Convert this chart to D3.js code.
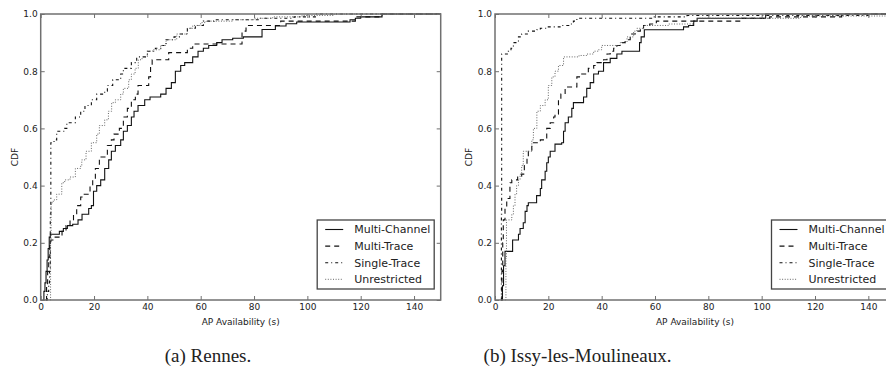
<!DOCTYPE html>
<html>
<head>
<meta charset="utf-8">
<script src="https://cdn.jsdelivr.net/npm/d3@7"></script>
<style>
  html, body { margin: 0; padding: 0; background: #fff; }
  svg { display: block; }
  .tick text { font-family: "DejaVu Sans", sans-serif; font-size: 9px; fill: #222; }
</style>
</head>
<body>
<svg id="fig" width="886" height="376"></svg>
<script>
// ---- data -------------------------------------------------------------
const xTicks = [0, 20, 40, 60, 80, 100, 120, 140];
const yTicks = [0, 0.2, 0.4, 0.6, 0.8, 1.0];
const seriesNames = ["Multi-Channel", "Multi-Trace", "Single-Trace", "Unrestricted"];
const captions = ["(a) Rennes.", "(b) Issy-les-Moulineaux."];
const xLabel = "AP Availability (s)";
const yLabel = "CDF";

// Rennes: [seconds, cumulative fraction] step points
const rennesMultiChannel = [
  [0.8,0],[1.2,0.03],[1.6,0.06],[2,0.1],[2.4,0.14],[2.8,0.18],[3.2,0.22],[3.6,0.23],
  [7,0.24],[8.5,0.25],[10,0.26],[12,0.265],[14,0.28],[15.5,0.30],[18,0.32],[19,0.33],
  [19.8,0.38],[21,0.40],[22.5,0.42],[24,0.46],[25.5,0.49],[26.5,0.52],[28,0.54],[30,0.56],
  [31,0.59],[32.5,0.61],[34,0.64],[35,0.66],[36.5,0.68],[39,0.70],[41,0.71],[45,0.72],
  [47,0.74],[49,0.76],[50.5,0.80],[52.5,0.82],[54,0.83],[57,0.85],[59,0.87],[61,0.88],
  [63,0.89],[66,0.90],[68,0.91],[72,0.915],[76,0.92],[83,0.946],[88,0.958],[92,0.966],
  [96,0.972],[116,0.98],[118,0.985],[120,0.99],[128,1.0]
];
const rennesMultiTrace = [
  [1.8,0],[2.2,0.05],[2.6,0.1],[3,0.15],[3.4,0.19],[3.8,0.21],[5,0.22],[8,0.24],
  [9.5,0.26],[11,0.28],[12.3,0.30],[13.5,0.33],[15,0.36],[15.5,0.37],[18.5,0.40],
  [19.5,0.42],[20.5,0.46],[22,0.50],[25,0.54],[26.5,0.56],[27.5,0.58],[29.5,0.60],
  [31,0.64],[32.5,0.67],[34,0.70],[35.5,0.72],[36.5,0.75],[40.5,0.78],[41.2,0.82],
  [41.8,0.84],[48,0.865],[55,0.88],[57,0.895],[75.5,0.94],[77,0.96],[90,0.975],
  [118,0.99],[128,1.0]
];
const rennesSingleTrace = [
  [2,0],[2.5,0.03],[3,0.06],[3.3,0.1],[3.6,0.3],[3.8,0.55],[5,0.56],[6,0.59],[9,0.60],
  [9.8,0.62],[13,0.64],[15,0.66],[16.6,0.68],[19,0.70],[21,0.72],[24,0.73],[25,0.75],
  [27,0.77],[30,0.79],[31,0.81],[34,0.83],[36,0.85],[40,0.87],[43,0.88],[45,0.89],
  [47,0.91],[50,0.92],[52,0.93],[55,0.95],[58,0.96],[61,0.975],[65,0.98],[82,0.985],
  [95,0.99],[103,1.0]
];
const rennesUnrestricted = [
  [3.5,0],[3.7,0.2],[3.9,0.34],[4.7,0.35],[6,0.37],[7.9,0.41],[9,0.42],[11,0.43],
  [13,0.46],[15,0.47],[15.4,0.49],[17,0.52],[19,0.55],[21,0.58],[22,0.61],[24,0.63],
  [25.4,0.66],[26.6,0.69],[28,0.70],[30,0.72],[31,0.74],[33,0.77],[34,0.79],[35.4,0.81],
  [36.6,0.84],[38,0.85],[40,0.87],[42,0.875],[45,0.89],[47,0.91],[51,0.93],[55,0.95],
  [57,0.96],[60,0.97],[62,0.975],[72,0.98],[80,0.985],[87,0.99],[98,0.995],[110,1.0]
];

// Issy-les-Moulineaux
const issyMultiChannel = [
  [2.5,0],[2.8,0.05],[3.2,0.12],[3.75,0.17],[6.6,0.21],[8.8,0.23],[9.4,0.25],[10.6,0.27],
  [11.3,0.31],[12,0.33],[12.5,0.34],[15.6,0.365],[17,0.39],[17.5,0.42],[18.8,0.45],
  [19.4,0.48],[20,0.50],[20.7,0.52],[22.5,0.545],[25,0.55],[25.7,0.59],[26.3,0.62],
  [27.5,0.64],[28.8,0.67],[29.4,0.69],[33.2,0.71],[34.4,0.74],[35.7,0.76],[37,0.79],
  [38.8,0.80],[40.7,0.83],[43.2,0.845],[45.7,0.86],[47.6,0.87],[54.2,0.90],[54.8,0.92],
  [56,0.945],[70.7,0.955],[72.6,0.96],[74.5,0.975],[75.8,0.985],[101.5,1.0]
];
const issyMultiTrace = [
  [2.3,0],[2.6,0.1],[2.9,0.2],[3.1,0.28],[3.75,0.32],[4.4,0.355],[5.6,0.41],[6.3,0.42],
  [8.5,0.433],[10,0.44],[11,0.47],[12,0.50],[12.5,0.52],[13.8,0.54],[14.4,0.55],
  [17,0.56],[19.4,0.60],[20.7,0.62],[22,0.64],[22.5,0.65],[23.8,0.70],[24.7,0.72],
  [26.3,0.745],[30.7,0.78],[32,0.79],[35,0.81],[37,0.82],[38.2,0.83],[40.7,0.84],
  [42,0.86],[43.2,0.87],[44.5,0.88],[45.7,0.89],[47.6,0.90],[48.8,0.91],[50.7,0.93],
  [52.6,0.94],[54.5,0.95],[55.7,0.96],[58,0.965],[60.5,0.975],[92,0.985],[103,0.99],
  [130,1.0]
];
const issySingleTrace = [
  [2.2,0],[2.4,0.3],[2.5,0.86],[5,0.87],[6,0.88],[6.9,0.90],[8.8,0.92],[10,0.93],
  [12.5,0.94],[15.7,0.945],[17,0.95],[19.4,0.955],[24.4,0.96],[28,0.965],[29.4,0.975],
  [30.7,0.985],[59.5,0.99],[72,0.995],[140,1.0]
];
const issyUnrestricted = [
  [3.9,0],[4.1,0.15],[4.3,0.28],[6.3,0.30],[6.9,0.33],[7.5,0.37],[8.1,0.40],[8.8,0.42],
  [9.4,0.44],[10,0.47],[10.6,0.52],[13.8,0.56],[14.4,0.60],[15.7,0.66],[17,0.68],
  [18.8,0.70],[20,0.75],[21.3,0.78],[22.5,0.80],[23.8,0.82],[25.7,0.85],[31.5,0.855],
  [34.4,0.86],[37,0.87],[38.8,0.875],[40,0.89],[47,0.90],[49.5,0.92],[52,0.94],
  [53.2,0.95],[55.7,0.96],[65,0.965],[74.5,0.975],[76,0.985],[114.6,0.993]
];

const panels = [
  { caption: captions[0], series: [rennesMultiChannel, rennesMultiTrace, rennesSingleTrace, rennesUnrestricted] },
  { caption: captions[1], series: [issyMultiChannel, issyMultiTrace, issySingleTrace, issyUnrestricted] }
];

// ---- styling ----------------------------------------------------------
const lineStyles = [
  { dash: null,          color: "#111", width: 1.1 },
  { dash: "5,4",         color: "#111", width: 1.1 },
  { dash: "3,3,1,3",     color: "#111", width: 1.1 },
  { dash: "1,1.6",       color: "#555", width: 0.9 }
];

const layout = {
  top: 14, height: 286, plotWidth: 400,
  lefts: [40.7, 495],
  captionX: [208, 577.5], captionY: 362
};

const svg = d3.select("#fig");

panels.forEach((panel, pi) => {
  const x0 = layout.lefts[pi];
  const W = layout.plotWidth, H = layout.height;
  const g = svg.append("g").attr("transform", `translate(${x0},${layout.top})`);

  const x = d3.scaleLinear().domain([0, 150]).range([0, W]);
  const y = d3.scaleLinear().domain([0, 1]).range([H, 0]);

  const clipId = "clip" + pi;
  g.append("clipPath").attr("id", clipId)
    .append("rect").attr("x", -1).attr("y", -1).attr("width", W + 2).attr("height", H + 2);

  // curves
  const line = d3.line()
    .x(d => x(d[0])).y(d => y(d[1]))
    .curve(d3.curveStepAfter);

  panel.series.forEach((pts, si) => {
    const st = lineStyles[si];
    const data = pts.concat([[150, pts[pts.length - 1][1]]]);
    g.append("path")
      .datum(data)
      .attr("clip-path", `url(#${clipId})`)
      .attr("fill", "none")
      .attr("stroke", st.color)
      .attr("stroke-width", st.width)
      .attr("stroke-dasharray", st.dash)
      .attr("d", line);
  });

  // axes with inward ticks on all four sides
  const axisColor = "#707070";
  const styleAxis = sel => {
    sel.select(".domain").remove();
    sel.selectAll(".tick line").attr("stroke", axisColor).attr("stroke-width", 1);
  };
  g.append("g").attr("transform", `translate(0,${H})`)
    .call(d3.axisBottom(x).tickValues(xTicks).tickSizeInner(-4).tickSizeOuter(0).tickPadding(4).tickFormat(d3.format("d")))
    .call(styleAxis);
  g.append("g")
    .call(d3.axisLeft(y).tickValues(yTicks).tickSizeInner(-4).tickSizeOuter(0).tickPadding(3).tickFormat(d3.format(".1f")))
    .call(styleAxis);
  g.append("g")
    .call(d3.axisTop(x).tickValues(xTicks).tickSizeInner(-4).tickSizeOuter(0).tickFormat(""))
    .call(styleAxis);
  g.append("g").attr("transform", `translate(${W},0)`)
    .call(d3.axisRight(y).tickValues(yTicks).tickSizeInner(-4).tickSizeOuter(0).tickFormat(""))
    .call(styleAxis);
  g.selectAll(".tick text").attr("font-family", null).attr("font-size", null);

  // frame
  g.append("rect")
    .attr("x", 0).attr("y", 0).attr("width", W).attr("height", H)
    .attr("fill", "none").attr("stroke", axisColor).attr("stroke-width", 1.5);

  // axis titles
  g.append("text")
    .attr("x", W / 2).attr("y", H + 25)
    .attr("text-anchor", "middle")
    .attr("font-family", "DejaVu Sans, sans-serif").attr("font-size", 9).attr("fill", "#222")
    .text(xLabel);
  g.append("text")
    .attr("transform", `translate(${-23},${H / 2}) rotate(-90)`)
    .attr("text-anchor", "middle")
    .attr("font-family", "DejaVu Sans, sans-serif").attr("font-size", 9).attr("fill", "#222")
    .text(yLabel);

  // legend
  const lgW = 117, lgH = 69;
  const lg = g.append("g").attr("transform", `translate(${W - 6.5 - lgW},${220 - layout.top})`);
  lg.append("rect").attr("width", lgW).attr("height", lgH)
    .attr("fill", "#fff").attr("stroke", "#444").attr("stroke-width", 1.3);
  seriesNames.forEach((name, si) => {
    const st = lineStyles[si];
    const cy = 9.5 + si * 16.6;
    lg.append("line")
      .attr("x1", 8).attr("x2", 26).attr("y1", cy).attr("y2", cy)
      .attr("stroke", st.color).attr("stroke-width", st.width)
      .attr("stroke-dasharray", st.dash);
    lg.append("text")
      .attr("x", 37).attr("y", cy).attr("dy", "0.36em")
      .attr("font-family", "DejaVu Sans, sans-serif").attr("font-size", 11).attr("fill", "#222")
      .text(name);
  });

  // caption
  svg.append("text")
    .attr("x", layout.captionX[pi]).attr("y", layout.captionY)
    .attr("text-anchor", "middle")
    .attr("font-family", "Liberation Serif, serif").attr("font-size", 19).attr("fill", "#222")
    .text(panel.caption);
});
</script>
</body>
</html>
